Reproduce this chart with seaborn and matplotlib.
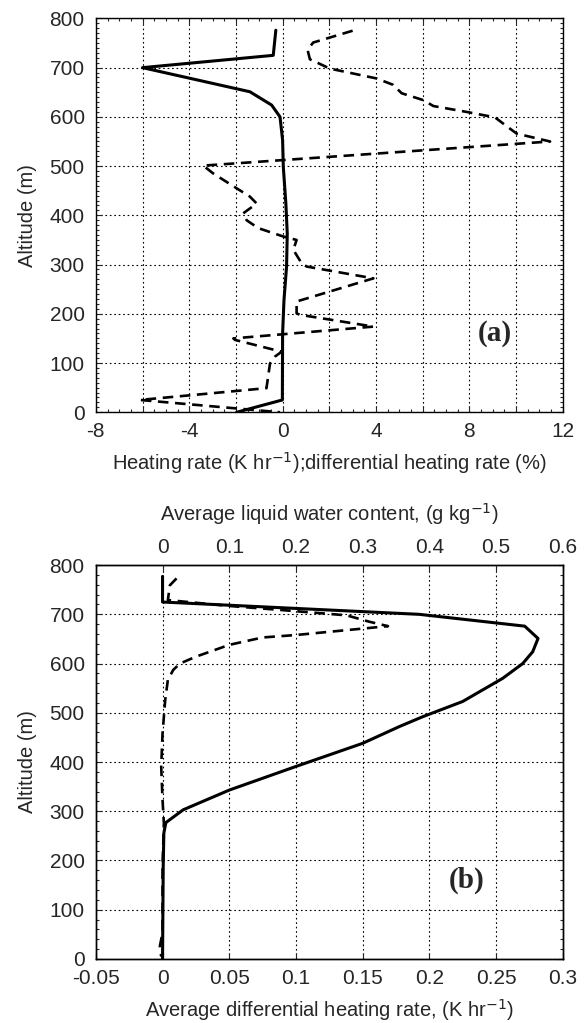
import numpy as np
import pandas as pd
import seaborn as sns
import matplotlib.pyplot as plt
from matplotlib.ticker import MultipleLocator, FuncFormatter

# Panel (a): heating rate (solid) and differential heating rate (dashed)
alt_a_solid = [776, 725, 700, 651, 624, 600, 553, 499, 424, 363, 296, 228, 160, 25, 0]
heat_rate = [-0.29, -0.4, -6.0, -1.4, -0.47, -0.11, 0.0, 0.03, 0.14, 0.2, 0.17, 0.06, 0.0, -0.01, -1.97]

alt_a_dash = [775, 751, 736, 717, 698, 678, 665, 648, 634, 622, 610, 599, 581, 566, 550,
              501, 485, 455, 438, 424, 404, 390, 374, 357, 350, 330, 303, 296, 272, 225,
              201, 198, 174, 150, 147, 123, 113, 99, 49, 25, 0]
diff_heat_pct = [3.0, 1.31, 1.07, 1.17, 2.03, 4.03, 4.74, 5.1, 6.03, 6.46, 7.89, 9.1, 9.6, 10.03, 11.46,
                 -3.4, -2.97, -1.97, -1.4, -1.11, -1.69, -1.54, -1.04, 0.03, 0.6, 0.46, 0.81, 1.03, 3.89, 0.6,
                 0.6, 0.74, 3.89, -2.11, -2.04, -0.04, -0.33, -0.54, -0.69, -6.11, -0.11]

# Panel (b): liquid water content (solid, top axis) and avg differential heating rate (dashed)
alt_b_solid = [777, 725, 700, 676, 651, 624, 600, 570, 523, 492, 472, 438, 391, 343, 303, 277, 256, 188, 0]
lwc = [0.0, 0.0, 0.385, 0.543, 0.563, 0.555, 0.54, 0.51, 0.45, 0.39, 0.355, 0.30, 0.2, 0.1, 0.031,
       0.005, 0.002, 0.001, 0.0]

alt_b_dash = [773, 759, 729, 717, 709, 698, 685, 676, 658, 653, 638, 614, 600, 587, 567, 526,
              458, 391, 323, 276, 188, 53, 26, 5]
avg_diff_heat = [0.0105, 0.0055, 0.004, 0.05, 0.088, 0.138, 0.155, 0.169, 0.1, 0.075, 0.05, 0.025,
                 0.013, 0.008, 0.004, 0.002, 0.0, -0.001, 0.0, 0.001, 0.0, 0.0, -0.002, -0.001]

sns.set_style("ticks")
plt.rcParams['font.family'] = ['Liberation Sans', 'DejaVu Sans']
plt.rcParams['xtick.direction'] = 'in'
plt.rcParams['ytick.direction'] = 'in'

TFS = 15      # tick labels
LFS = 14.5    # axis labels

fig = plt.figure(figsize=(5.88, 10.23), dpi=100)
ax1 = fig.add_axes([0.163, 0.597, 0.794, 0.385])
ax2 = fig.add_axes([0.163, 0.0626, 0.794, 0.385])

grid_kw = dict(color='black', linestyle=(0, (1.5, 2.5)), linewidth=0.8)

# ---- panel (a)
sns.lineplot(x=heat_rate, y=alt_a_solid, sort=False, estimator=None, ax=ax1,
             color='black', linewidth=2.2)
sns.lineplot(x=diff_heat_pct, y=alt_a_dash, sort=False, estimator=None, ax=ax1,
             color='black', linewidth=1.9, linestyle=(0, (4, 2.5)))
ax1.set_xlim(-8, 12)
ax1.set_ylim(0, 800)
ax1.xaxis.set_major_locator(MultipleLocator(2))
ax1.xaxis.set_minor_locator(MultipleLocator(0.5))
ax1.xaxis.set_major_formatter(FuncFormatter(lambda v, p: f"{v:g}" if round(v) % 4 == 0 else ""))
ax1.yaxis.set_major_locator(MultipleLocator(100))
ax1.yaxis.set_minor_locator(MultipleLocator(10))
ax1.tick_params(which='both', top=True, right=True, length=4, width=0.8, labelsize=TFS)
ax1.tick_params(which='minor', length=2.5)
ax1.tick_params(axis='x', pad=7)
ax1.tick_params(axis='y', pad=8)
ax1.grid(True, which='major', **grid_kw)
ax1.set_xlabel('Heating rate (K hr$^{-1}$);differential heating rate (%)', fontsize=LFS, labelpad=6.5)
ax1.set_ylabel('Altitude (m)', fontsize=LFS, labelpad=9)
ax1.text(0.855, 0.2, '(a)', transform=ax1.transAxes, ha='center', va='center',
         fontsize=21, fontweight='bold', family='Liberation Serif')

# ---- panel (b)
sns.lineplot(x=avg_diff_heat, y=alt_b_dash, sort=False, estimator=None, ax=ax2,
             color='black', linewidth=1.9, linestyle=(0, (4, 2.5)))
ax2.set_xlim(-0.05, 0.3)
ax2.set_ylim(0, 800)
ax2.xaxis.set_major_locator(MultipleLocator(0.05))
ax2.xaxis.set_major_formatter(FuncFormatter(lambda v, p: f"{round(v, 3):g}"))
ax2.yaxis.set_major_locator(MultipleLocator(100))
ax2.yaxis.set_minor_locator(MultipleLocator(20))
ax2.tick_params(which='both', right=True, length=4, width=0.8, labelsize=TFS)
ax2.tick_params(which='minor', length=2.5)
ax2.tick_params(axis='x', pad=7)
ax2.tick_params(axis='y', pad=8)
ax2.grid(True, which='major', **grid_kw)
ax2.set_xlabel('Average differential heating rate, (K hr$^{-1}$)', fontsize=LFS, labelpad=6.5)
ax2.set_ylabel('Altitude (m)', fontsize=LFS, labelpad=9)

ax3 = ax2.twiny()
sns.lineplot(x=lwc, y=alt_b_solid, sort=False, estimator=None, ax=ax3,
             color='black', linewidth=2.2)
ax3.set_xlim(-0.1, 0.6)
ax3.set_xticks([0, 0.1, 0.2, 0.3, 0.4, 0.5, 0.6])
ax3.xaxis.set_major_formatter(FuncFormatter(lambda v, p: f"{round(v, 3):g}"))
ax3.tick_params(which='both', length=4, width=0.8, labelsize=TFS, pad=6)
ax3.set_xlabel('Average liquid water content, (g kg$^{-1}$)', fontsize=LFS, labelpad=12)
ax3.set_ylabel('')
ax3.text(0.795, 0.2, '(b)', transform=ax2.transAxes, ha='center', va='center',
         fontsize=21, fontweight='bold', family='Liberation Serif')

for a in (ax1, ax2, ax3):
    for s in a.spines.values():
        s.set_linewidth(1.0)
        s.set_color('black')

fig.savefig('out.png', dpi=100)
